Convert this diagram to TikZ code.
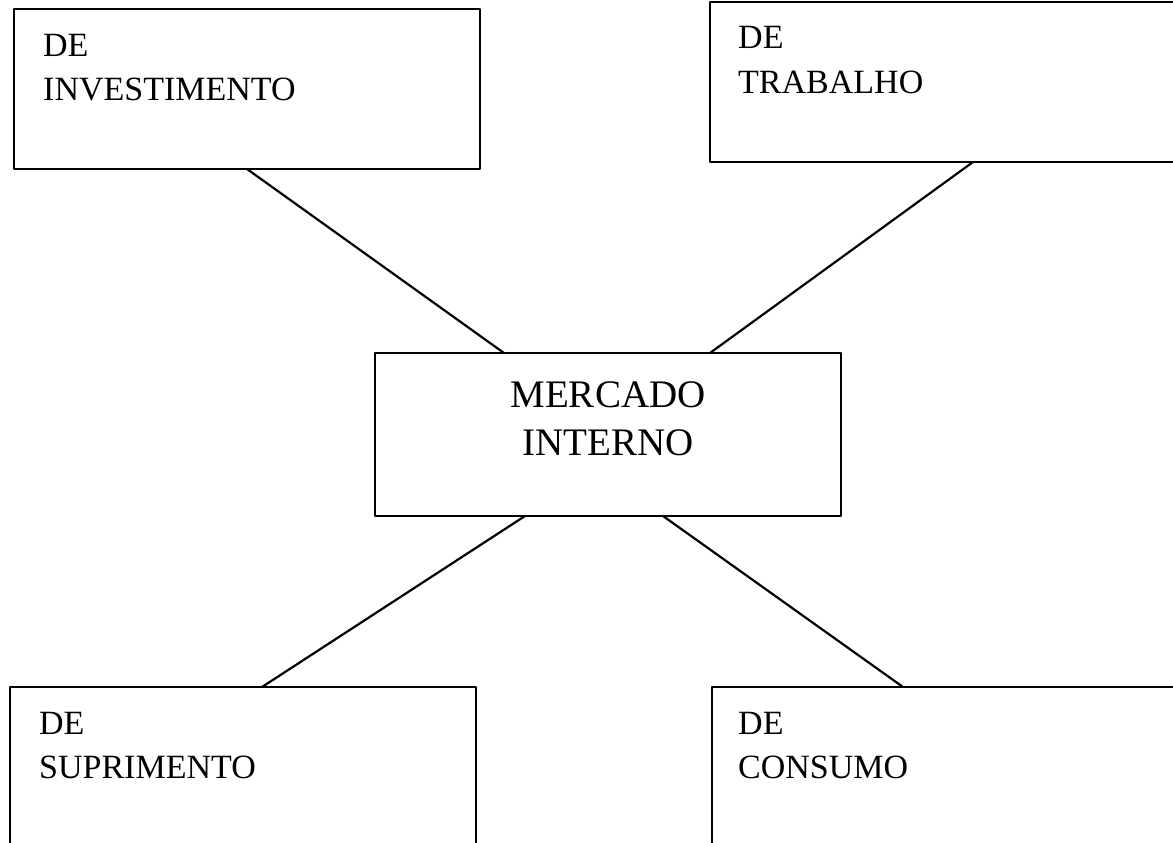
\documentclass[tikz,border=0pt]{standalone}
\usepackage{fontspec}
\setmainfont{Liberation Serif}
\usetikzlibrary{positioning}
\tikzset{
  caixa/.style={draw, line width=2.2pt, inner sep=0pt, outer sep=0pt, anchor=north west},
  rotulo/.style={anchor=base west, align=left, inner sep=0pt, font=\fontsize{34}{44}\selectfont}
}
\begin{document}
\begin{tikzpicture}[x=1pt,y=-1pt,line join=round]
  \useasboundingbox (0,0) rectangle (1173,843);
  \node[caixa, minimum width=466pt, minimum height=160pt] (inv) at (14,9) {};
  \node[caixa, minimum width=530pt, minimum height=160pt] (trab) at (710,2) {};
  \node[caixa, minimum width=466pt, minimum height=163pt] (mkt) at (375,353) {};
  \node[caixa, minimum width=466pt, minimum height=200pt] (sup) at (10,687) {};
  \node[caixa, minimum width=530pt, minimum height=200pt] (cons) at (712,687) {};
  \node[rotulo] (invtxt) at (43,100) {DE\\INVESTIMENTO};
  \node[rotulo] (trabtxt) at (738,93) {DE\\TRABALHO};
  \node[rotulo] (suptxt) at (39,778) {DE\\SUPRIMENTO};
  \node[rotulo] (constxt) at (738,778) {DE\\CONSUMO};
  \node[anchor=base, align=center, inner sep=0pt, font=\fontsize{39}{48}\selectfont] (mkttxt) at (608,455) {MERCADO\\INTERNO};
  \draw[line width=2.2pt]
    (inv.south) -- ([xshift=129pt]mkt.north west)
    ([xshift=263pt]trab.south west) -- ([xshift=335pt]mkt.north west)
    ([xshift=150pt]mkt.south west) -- ([xshift=252pt]sup.north west)
    ([xshift=288pt]mkt.south west) -- ([xshift=191pt]cons.north west);
\end{tikzpicture}
\end{document}
